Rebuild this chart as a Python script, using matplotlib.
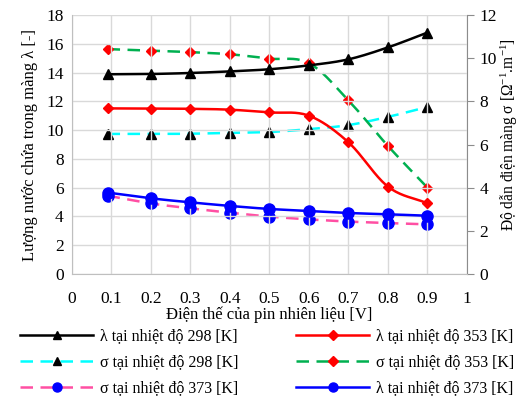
import numpy as np
import matplotlib
matplotlib.use("Agg")
import matplotlib.pyplot as plt
from matplotlib.lines import Line2D

plt.rcParams['font.family'] = ['Liberation Serif', 'DejaVu Serif']
plt.rcParams['mathtext.fontset'] = 'custom'
plt.rcParams['mathtext.rm'] = 'Liberation Serif'
plt.rcParams['mathtext.it'] = 'Liberation Serif:italic'

voltage = [0.09, 0.2, 0.3, 0.4, 0.5, 0.6, 0.7, 0.8, 0.9]
lam_298 = [13.88, 13.9, 13.97, 14.08, 14.23, 14.5, 14.92, 15.75, 16.78]
lam_353 = [11.51, 11.5, 11.48, 11.42, 11.23, 11.0, 9.15, 6.07, 4.91]
lam_373 = [5.66, 5.26, 4.98, 4.73, 4.52, 4.38, 4.24, 4.15, 4.05]
sig_298 = [6.49, 6.49, 6.5, 6.54, 6.58, 6.71, 6.9, 7.28, 7.74]
sig_353 = [10.42, 10.35, 10.28, 10.18, 9.98, 9.77, 8.04, 5.93, 4.0]
sig_373 = [3.63, 3.27, 3.04, 2.84, 2.66, 2.53, 2.43, 2.36, 2.3]

labels = ['λ tại nhiệt độ 298 [K]', 'σ tại nhiệt độ 298 [K]', 'σ tại nhiệt độ 373 [K]',
          'λ tại nhiệt độ 353 [K]', 'σ tại nhiệt độ 353 [K]', 'λ tại nhiệt độ 373 [K]']


def smooth(x, y, n=20):
    x = np.asarray(x, float)
    y = np.asarray(y, float)
    px = np.concatenate([[2 * x[0] - x[1]], x, [2 * x[-1] - x[-2]]])
    py = np.concatenate([[2 * y[0] - y[1]], y, [2 * y[-1] - y[-2]]])
    xs, ys = [], []
    t = np.linspace(0, 1, n, endpoint=False)
    for i in range(1, len(px) - 2):
        p0, p1, p2, p3 = (np.array([px[j], py[j]]) for j in range(i - 1, i + 3))
        b1 = p1 + (p2 - p0) / 6
        b2 = p2 - (p3 - p1) / 6
        for tt in t:
            pt = ((1 - tt) ** 3) * p1 + 3 * ((1 - tt) ** 2) * tt * b1 + 3 * (1 - tt) * tt ** 2 * b2 + tt ** 3 * p2
            xs.append(pt[0]); ys.append(pt[1])
    xs.append(x[-1]); ys.append(y[-1])
    return xs, ys


fig = plt.figure(figsize=(5.19, 4.01), dpi=100)
ax = fig.add_axes([0.1387, 0.3167, 0.7611, 0.6459])
ax2 = ax.twinx()

lw = 1.8
dash = (5, 3)

def draw(a, y, color, marker, mcolor, ms, ls):
    sx, sy = smooth(voltage, y)
    if ls == '-':
        a.plot(sx, sy, color=color, lw=lw, zorder=3)
    else:
        a.plot(sx, sy, color=color, lw=lw, dashes=dash, zorder=3)
    a.plot(voltage, y, ls='none', marker=marker, color=mcolor, ms=ms, zorder=4)

draw(ax2, sig_298, '#00ffff', '^', 'black', 7, '--')
draw(ax2, sig_353, '#00b050', 'D', 'red', 5.5, '--')
draw(ax2, sig_373, '#ff4fa3', 'o', 'blue', 8, '--')
draw(ax, lam_298, 'black', '^', 'black', 7, '-')
draw(ax, lam_353, 'red', 'D', 'red', 5.5, '-')
draw(ax, lam_373, 'blue', 'o', 'blue', 8, '-')

ax.set_zorder(ax2.get_zorder() + 1)
ax.patch.set_visible(False)

ax.set_xlim(0, 1)
ax.set_ylim(0, 18)
ax2.set_ylim(0, 12)
ax.set_xticks(np.arange(0, 1.01, 0.1))
ax.set_xticklabels(['0', '0.1', '0.2', '0.3', '0.4', '0.5', '0.6', '0.7', '0.8', '0.9', '1'])
ax.set_yticks(np.arange(0, 19, 2))
ax2.set_yticks(np.arange(0, 13, 2))
ax2.grid(False)
ax.grid(True, color='#d9d9d9', lw=1)
ax.set_axisbelow(True)

for a in (ax, ax2):
    for s in a.spines.values():
        s.set_visible(False)
ax.spines['left'].set_visible(True)
ax.spines['left'].set_color('#bfbfbf')
ax.spines['bottom'].set_visible(True)
ax.spines['bottom'].set_color('#bfbfbf')
ax2.spines['right'].set_visible(True)
ax2.spines['right'].set_color('#8c8c8c')

ax.tick_params(axis='both', length=0, labelsize=12.5, pad=6)
ax.tick_params(axis='x', pad=12)
ax2.tick_params(axis='y', length=5, color='#8c8c8c', labelsize=12.5, pad=4)

ax.set_xlabel('Điện thế của pin nhiên liệu [V]', fontsize=12, labelpad=0)
ax.set_ylabel('Lượng nước chứa trong màng λ [-]', fontsize=12, labelpad=6)
ax2.set_ylabel('Độ dẫn điện màng σ [Ω$^{-1}$.m$^{-1}$]', fontsize=11.2, labelpad=0)
ax2.yaxis.set_label_coords(1.081, 0.54)

handles = [
    Line2D([], [], color='black', lw=lw, marker='^', mfc='black', mec='black', ms=6),
    Line2D([], [], color='#00ffff', lw=lw, dashes=dash, marker='^', mfc='black', mec='black', ms=6),
    Line2D([], [], color='#ff4fa3', lw=lw, dashes=dash, marker='o', mfc='blue', mec='blue', ms=6.5),
    Line2D([], [], color='red', lw=lw, marker='D', mfc='red', mec='red', ms=5),
    Line2D([], [], color='#00b050', lw=lw, dashes=dash, marker='D', mfc='red', mec='red', ms=5),
    Line2D([], [], color='blue', lw=lw, marker='o', mfc='blue', mec='blue', ms=6.5),
]
fig.legend(handles, labels, ncol=2, loc='lower left', bbox_to_anchor=(0.02, -0.012),
           frameon=False, fontsize=11.5, handlelength=4.6, handletextpad=0.4,
           columnspacing=3.6, labelspacing=0.62, borderaxespad=0.2)

fig.savefig('out.png', dpi=100)
